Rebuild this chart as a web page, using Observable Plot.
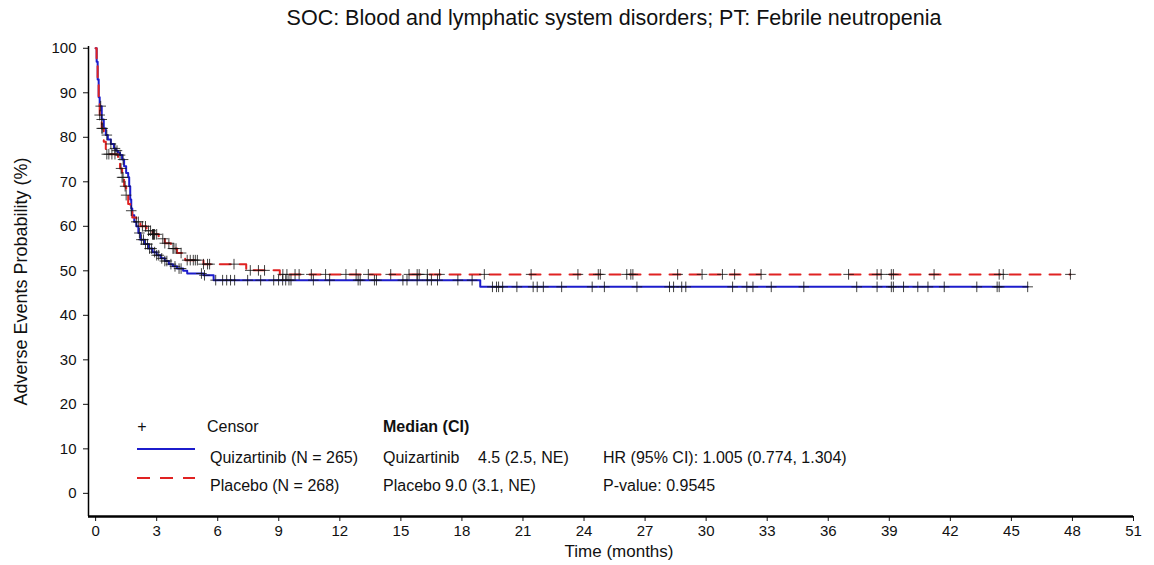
<!DOCTYPE html>
<html>
<head>
<meta charset="utf-8">
<script src="https://cdn.jsdelivr.net/npm/d3@7"></script>
<script src="https://cdn.jsdelivr.net/npm/@observablehq/plot@0.6"></script>
<style>
  html, body { margin: 0; padding: 0; background: #fff; }
  body { width: 1154px; height: 565px; overflow: hidden; font-family: "Liberation Sans", Arial, sans-serif; }
  #title { height: 36px; line-height: 36px; text-align: center; font-size: 21.5px; color: #111; padding-left: 74px; box-sizing: border-box; }
</style>
</head>
<body>
<div id="title">SOC: Blood and lymphatic system disorders; PT: Febrile neutropenia</div>
<div id="chart"></div>
<script>
// ---- Data ----
const quizTimes = [0, 0.05, 0.1, 0.15, 0.2, 0.3, 0.4, 0.5, 0.6, 0.75, 0.9, 1.0, 1.1, 1.2, 1.3, 1.4, 1.5, 1.6, 1.65, 1.7, 1.75, 1.8, 1.9, 2.0, 2.1, 2.2, 2.4, 2.6, 2.8, 3.0, 3.2, 3.4, 3.6, 3.8, 4.0, 4.3, 4.5, 5.3, 5.8, 18.9, 45.8];
const quizSurv  = [100, 97, 93, 89, 87, 84, 82, 80.5, 79.5, 78.5, 77.5, 77, 76.5, 76, 75, 73.5, 72, 71, 69, 66, 64, 62.5, 61, 60, 58.5, 57, 56, 55, 54.2, 53.5, 52.8, 52.2, 51.5, 51, 50.5, 50, 49.4, 49, 47.9, 46.4, 46.4];

const placTimes = [0, 0.05, 0.1, 0.15, 0.2, 0.3, 0.4, 0.5, 1.1, 1.2, 1.3, 1.4, 1.5, 1.6, 1.7, 1.8, 2.0, 2.2, 2.5, 2.8, 3.1, 3.4, 3.7, 4.0, 4.4, 5.3, 7.4, 9.05, 47.9];
const placSurv  = [100, 96, 92, 88, 85, 82, 79, 76.2, 74.5, 73, 71, 69, 67, 65, 63.5, 62, 61, 60, 59, 58.2, 57.2, 56.2, 55, 54, 52.4, 51.5, 50.1, 49.2, 49.2];

const quizCensor = [0.25, 0.3, 0.55, 0.75, 0.95, 1.05, 1.2, 1.35, 2.15, 2.25, 2.35, 2.45, 2.55, 2.65, 2.75, 2.9, 3.0, 3.1, 3.25, 3.4, 3.5, 3.7, 3.9, 4.1, 4.2, 5.2, 5.35, 5.9,
  6.24, 6.44, 6.63, 6.83, 7.47, 8.11, 8.75, 8.99, 9.19, 9.34, 9.5, 9.6, 10.7, 11.5, 12.9, 13.0, 13.7, 13.8, 15.1, 15.3, 15.8, 16.3, 16.5, 16.8, 17.8, 18.5,
  19.5, 19.7, 19.8, 20.0, 20.7, 21.5, 21.7, 22.0, 22.9, 24.4, 25.0, 26.6, 28.2, 28.4, 28.8, 29.0, 31.3, 32.0, 32.3, 33.2, 34.8, 37.4, 38.4, 39.1, 39.2, 39.7, 40.4, 40.9, 41.7, 43.3, 44.3, 44.4, 45.8];
const placCensor = [0.2, 0.3, 0.35, 0.55, 0.65, 0.8, 0.95, 1.25, 1.3, 1.35, 1.45, 1.5, 1.75, 2.0, 2.1, 2.3, 2.45, 2.6, 2.7, 2.8, 2.82, 2.85, 2.87, 2.9, 3.0, 3.3, 3.4, 3.6, 3.8, 3.85, 3.95, 4.2, 4.5, 4.65, 4.8, 4.9, 5.0, 5.3, 5.5, 5.6,
  6.8, 7.6, 8.0, 8.3, 9.2, 9.4, 9.8, 10.0, 10.6, 11.3, 12.3, 12.8, 13.4, 14.5, 15.4, 15.8, 15.9, 16.3, 16.9, 19.1, 21.4, 23.7, 24.7, 24.8, 26.1, 26.3, 26.4,
  28.6, 29.8, 30.8, 31.4, 32.7, 37.0, 38.4, 38.6, 39.1, 39.2, 41.2, 44.4, 44.6, 47.9];

const xTicks = [0, 3, 6, 9, 12, 15, 18, 21, 24, 27, 30, 33, 36, 39, 42, 45, 48, 51];
const yTicks = [0, 10, 20, 30, 40, 50, 60, 70, 80, 90, 100];

const xLabel = "Time (months)";
const yLabel = "Adverse Events Probability (%)";
const groupNames = ["Quizartinib (N = 265)", "Placebo (N = 268)"];
const medianRows = ["Quizartinib", "Placebo"];
const medianVals = ["4.5 (2.5, NE)", "9.0 (3.1, NE)"];
const statRows = ["HR (95% CI): 1.005 (0.774, 1.304)", "P-value: 0.9545"];

// ---- Build tables ----
const toRows = (ts, ps) => ts.map((t, i) => ({t, p: ps[i]}));
const quizData = toRows(quizTimes, quizSurv);
const placData = toRows(placTimes, placSurv);
function stepAt(ts, ps, t) {
  let v = ps[0];
  for (let i = 0; i < ts.length; i++) { if (ts[i] <= t) v = ps[i]; else break; }
  return v;
}
const censors = [
  ...quizCensor.map(t => ({t, p: stepAt(quizTimes, quizSurv, t)})),
  ...placCensor.map(t => ({t, p: stepAt(placTimes, placSurv, t)}))
];

const xMin = -0.35, yMin = -5.2;
const W = 1154, H = 529;
const font = "'Liberation Sans', Arial, sans-serif";
const blue = "#1c1ccc", red = "#e02222";

const plot = Plot.plot({
  width: W, height: H,
  marginLeft: 88, marginRight: 21, marginTop: 10, marginBottom: 49,
  style: {fontFamily: font, fontSize: "15px", color: "#111", background: "#fff"},
  x: {domain: [xMin, 51]},
  y: {domain: [yMin, 100.4]},
  marks: [
    Plot.axisY({ticks: yTicks, tickSize: 5, tickPadding: 7, fontSize: 15, label: null}),
    Plot.axisX({ticks: xTicks, tickSize: 5, tickPadding: 4, fontSize: 15, label: null}),
    Plot.axisY({ticks: [], label: yLabel, labelAnchor: "center", labelArrow: "none", labelOffset: 74, fontSize: 18}),
    Plot.text([xLabel], {frameAnchor: "bottom", dy: 35, dx: 8, fontSize: 17, lineAnchor: "middle", fill: "#111"}),
    Plot.ruleX([xMin], {stroke: "#000", strokeWidth: 1.5}),
    Plot.ruleY([yMin], {stroke: "#000", strokeWidth: 2.5}),
    Plot.line(quizData, {x: "t", y: "p", curve: "step-after", stroke: blue, strokeWidth: 2}),
    Plot.line(placData, {x: "t", y: "p", curve: "step-after", stroke: red, strokeWidth: 2, strokeDasharray: "11,9"}),
    Plot.dot(censors, {x: "t", y: "p", symbol: "plus", r: 3.5, stroke: "#111", strokeWidth: 1, strokeOpacity: 0.8})
  ]
});
document.getElementById("chart").appendChild(plot);

// ---- Legend inside the frame (anchored to frame bottom-left) ----
const svg = d3.select(plot);
const fx = 88, fy = H - 49;
const g = svg.append("g").attr("font-family", font).attr("font-size", 16).attr("fill", "#111").attr("text-anchor", "start");
const rows = [fy - 90, fy - 59, fy - 31];
g.append("text").attr("x", fx + 54).attr("y", rows[0]).attr("dy", "0.35em").attr("text-anchor", "middle").text("+");
g.append("text").attr("x", fx + 119).attr("y", rows[0]).attr("dy", "0.35em").text("Censor");
g.append("text").attr("x", fx + 295).attr("y", rows[0]).attr("dy", "0.35em").attr("font-weight", "bold").text("Median (CI)");
g.append("line").attr("x1", fx + 49).attr("x2", fx + 107).attr("y1", rows[1] - 8).attr("y2", rows[1] - 8).attr("stroke", blue).attr("stroke-width", 2);
g.append("line").attr("x1", fx + 49).attr("x2", fx + 107).attr("y1", rows[2] - 7).attr("y2", rows[2] - 7).attr("stroke", red).attr("stroke-width", 2).attr("stroke-dasharray", "13,10");
groupNames.forEach((s, i) => g.append("text").attr("x", fx + 122).attr("y", rows[i + 1]).attr("dy", "0.35em").text(s));
medianRows.forEach((s, i) => g.append("text").attr("x", fx + 295).attr("y", rows[i + 1]).attr("dy", "0.35em").text(s));
g.append("text").attr("x", fx + 390).attr("y", rows[1]).attr("dy", "0.35em").text(medianVals[0]);
g.append("text").attr("x", fx + 357).attr("y", rows[2]).attr("dy", "0.35em").text(medianVals[1]);
statRows.forEach((s, i) => g.append("text").attr("x", fx + 515).attr("y", rows[i + 1]).attr("dy", "0.35em").text(s));
</script>
</body>
</html>
